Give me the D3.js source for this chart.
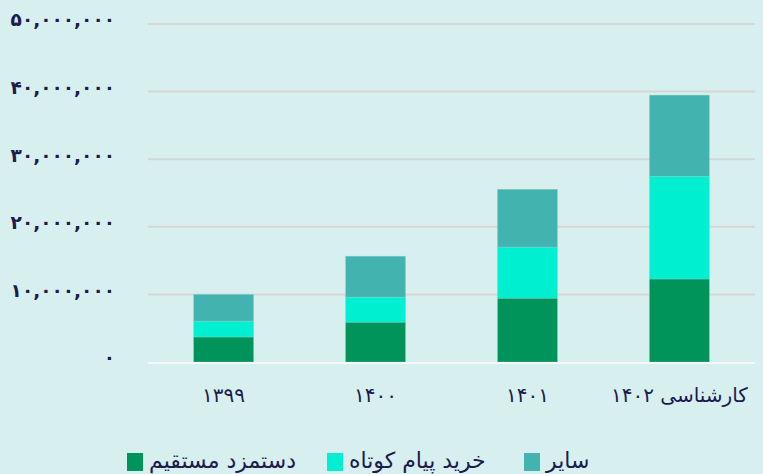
<!DOCTYPE html>
<html><head><meta charset="utf-8">
<script src="https://cdn.jsdelivr.net/npm/d3@7"></script>
<style>
html,body{margin:0;padding:0;background:#d8eff0;}
svg{display:block;}
</style></head>
<body>
<svg id="c" width="763" height="474"></svg>
<script>
const categories = ["۱۳۹۹", "۱۴۰۰", "۱۴۰۱", "کارشناسی ۱۴۰۲"];
const seriesNames = ["دستمزد مستقیم", "خرید پیام کوتاه", "سایر"];
const seriesColors = ["#00935a", "#00efd1", "#42b3ae"];
const wages = [3700000, 5900000, 9450000, 12280000];
const sms = [2350000, 3700000, 7550000, 15200000];
const other = [3950000, 6050000, 8550000, 12000000];
const yTicks = [0, 10000000, 20000000, 30000000, 40000000, 50000000];

const fa = s => String(s).replace(/\d/g, d => "۰۱۲۳۴۵۶۷۸۹"[+d]);
const fmt = d => fa(d3.format(",")(d));

const svg = d3.select("#c");
const W = 763, H = 474;
const m = {left: 148, right: 8, top: 24, bottom: 112};
const x = d3.scaleBand().domain(categories).range([m.left, W - m.right]).paddingInner(0.605).paddingOuter(0.3);
const y = d3.scaleLinear().domain([0, 50000000]).range([H - m.bottom, m.top]);

svg.append("rect").attr("width", W).attr("height", H).attr("fill", "#d8eff0");

// gridlines
svg.append("g").selectAll("line").data(yTicks.slice(1)).join("line")
  .attr("x1", m.left).attr("x2", W - m.right)
  .attr("y1", d => y(d)).attr("y2", d => y(d))
  .attr("stroke", "#d6d6d6").attr("stroke-width", 2);

// y axis labels
const yAxis = d3.axisLeft(y).tickValues(yTicks).tickFormat(fmt).tickSize(0).tickPadding(0);
const ya = svg.append("g").attr("transform", `translate(115,0)`).call(yAxis);
ya.select(".domain").remove();
ya.selectAll("text").attr("font-family", "DejaVu Sans").attr("font-size", 18.5).attr("font-weight", "bold")
  .attr("fill", "#1b1b4d").attr("dy", "0.1em");

// stacked data
const rows = categories.map((c, i) => ({cat: c, s0: wages[i], s1: sms[i], s2: other[i]}));
const stack = d3.stack().keys(["s0", "s1", "s2"])(rows);
svg.append("g").selectAll("g").data(stack).join("g")
  .attr("fill", (d, i) => seriesColors[i])
  .selectAll("rect").data(d => d).join("rect")
  .attr("x", d => x(d.data.cat)).attr("width", x.bandwidth())
  .attr("y", d => y(d[1])).attr("height", d => y(d[0]) - y(d[1]))
  .attr("stroke", "#8fd6cf").attr("stroke-width", 0.6).attr("stroke-opacity", 0.6);

// baseline
svg.append("line").attr("x1", m.left).attr("x2", W - m.right)
  .attr("y1", y(0) + 1).attr("y2", y(0) + 1).attr("stroke", "#f4f8f8").attr("stroke-width", 2);

// x labels
const xAxis = d3.axisBottom(x).tickSize(0).tickPadding(0);
const xa = svg.append("g").attr("transform", `translate(0,${y(0) + 26})`).call(xAxis);
xa.select(".domain").remove();
xa.selectAll("text").attr("font-family", "DejaVu Sans").attr("font-size", 20)
  .attr("fill", "#1b1b4d").attr("direction", "rtl");

// legend
const legX = [127, 327, 524];
const lg = svg.append("g").selectAll("g").data(seriesNames).join("g")
  .attr("transform", (d, i) => `translate(${legX[i]},453)`);
lg.append("rect").attr("width", 16).attr("height", 18).attr("fill", (d, i) => seriesColors[i]);
lg.append("text").attr("x", 22).attr("y", 15).attr("font-family", "DejaVu Sans").attr("font-size", 22)
  .attr("fill", "#1b1b4d").text(d => d);
</script>
</body></html>
